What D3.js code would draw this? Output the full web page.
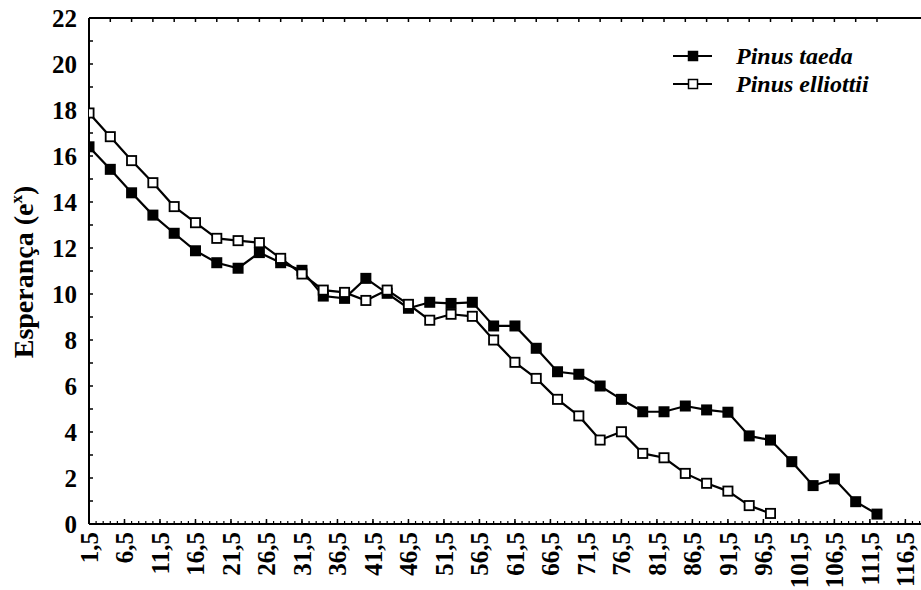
<!DOCTYPE html>
<html><head><meta charset="utf-8">
<script src="https://cdn.jsdelivr.net/npm/d3@7"></script>
<style>body{margin:0;background:#fff}svg{display:block}</style>
</head><body><svg id="c" width="921" height="590" font-family="Liberation Serif, Times New Roman, DejaVu Serif, serif" font-weight="bold"></svg>
<script>
const xTaeda = [1.5,4.5,7.5,10.5,13.5,16.5,19.5,22.5,25.5,28.5,31.5,34.5,37.5,40.5,43.5,46.5,49.5,52.5,55.5,58.5,61.5,64.5,67.5,70.5,73.5,76.5,79.5,82.5,85.5,88.5,91.5,94.5,97.5,100.5,103.5,106.5,109.5,112.5];
const yTaeda = [16.4,15.42,14.4,13.43,12.64,11.88,11.36,11.12,11.8,11.36,11.03,9.91,9.81,10.68,10.03,9.38,9.64,9.59,9.64,8.61,8.61,7.64,6.62,6.51,6.0,5.42,4.88,4.88,5.13,4.96,4.86,3.83,3.65,2.71,1.67,1.96,0.97,0.43];
const xElliottii = [1.5,4.5,7.5,10.5,13.5,16.5,19.5,22.5,25.5,28.5,31.5,34.5,37.5,40.5,43.5,46.5,49.5,52.5,55.5,58.5,61.5,64.5,67.5,70.5,73.5,76.5,79.5,82.5,85.5,88.5,91.5,94.5,97.5];
const yElliottii = [17.87,16.84,15.8,14.84,13.8,13.1,12.42,12.32,12.23,11.55,10.87,10.17,10.07,9.72,10.17,9.55,8.86,9.12,9.03,8.0,7.03,6.33,5.42,4.7,3.65,4.01,3.07,2.88,2.2,1.77,1.43,0.8,0.46];
const xTickLabels = ["1,5","6,5","11,5","16,5","21,5","26,5","31,5","36,5","41,5","46,5","51,5","56,5","61,5","66,5","71,5","76,5","81,5","86,5","91,5","96,5","101,5","106,5","111,5","116,5"];
const yTickLabels = ["0","2","4","6","8","10","12","14","16","18","20","22"];
const seriesNames = ["Pinus taeda","Pinus elliottii"];

const svg = d3.select("#c");
const L=89, R=921, T=18, B=524;
const x = d3.scaleLinear().domain([1.5,118.7]).range([L,R]);
const y = d3.scaleLinear().domain([0,22]).range([B,T]);
const num = s => +s.replace(",",".");

svg.append("line").attr("x1",L).attr("x2",R).attr("y1",T).attr("y2",T).attr("stroke","#000").attr("stroke-width",2);
svg.append("line").attr("x1",L).attr("x2",L).attr("y1",T).attr("y2",B).attr("stroke","#000").attr("stroke-width",2);
svg.append("line").attr("x1",L).attr("x2",R).attr("y1",B).attr("y2",B).attr("stroke","#000").attr("stroke-width",2);

const yAll = d3.range(0,23);
svg.append("g").selectAll("line").data(yAll).join("line")
  .attr("x1",L).attr("x2",L+4).attr("y1",d=>y(d)).attr("y2",d=>y(d)).attr("stroke","#000").attr("stroke-width",1.5);
svg.append("g").selectAll("text").data(yTickLabels).join("text")
  .attr("x",L-12).attr("y",d=>y(+d)).attr("dy","0.35em").attr("text-anchor","end")
  .attr("font-size",25).text(d=>d);

const xMinor = d3.range(1.5,118.6,1);
svg.append("g").selectAll("line").data(xMinor).join("line")
  .attr("x1",d=>x(d)).attr("x2",d=>x(d)).attr("y1",B).attr("y2",B-3).attr("stroke","#000").attr("stroke-width",1.2);
svg.append("g").selectAll("line").data(xTickLabels).join("line")
  .attr("x1",d=>x(num(d))).attr("x2",d=>x(num(d))).attr("y1",B).attr("y2",B-5).attr("stroke","#000").attr("stroke-width",1.5);
svg.append("g").selectAll("text").data(xTickLabels).join("text")
  .attr("transform",d=>`translate(${x(num(d))},${B+8}) rotate(-90)`)
  .attr("dy","0.35em").attr("text-anchor","end").attr("font-size",25).text(d=>d);

svg.append("g").selectAll("line").data(xTaeda).join("line")
  .attr("x1",d=>x(d)).attr("x2",d=>x(d)).attr("y1",T).attr("y2",T+4).attr("stroke","#000").attr("stroke-width",1.5);

svg.append("text").attr("transform",`translate(33,${272}) rotate(-90)`).attr("text-anchor","middle")
  .attr("font-size",28).html('Esperança (e<tspan dy="-11" font-size="17">x</tspan><tspan dy="11">)</tspan>');

svg.append("clipPath").attr("id","clip").append("rect").attr("x",L).attr("y",0).attr("width",R-L).attr("height",B+6);
const plot = svg.append("g").attr("clip-path","url(#clip)");
const line = d3.line().x(d=>x(d[0])).y(d=>y(d[1]));
const dT = xTaeda.map((v,i)=>[v,yTaeda[i]]);
const dE = xElliottii.map((v,i)=>[v,yElliottii[i]]);
plot.append("path").datum(dT).attr("d",line).attr("fill","none").attr("stroke","#000").attr("stroke-width",2.2);
plot.append("path").datum(dE).attr("d",line).attr("fill","none").attr("stroke","#000").attr("stroke-width",2.2);
const s=11;
plot.append("g").selectAll("rect").data(dT).join("rect")
  .attr("x",d=>x(d[0])-s/2).attr("y",d=>y(d[1])-s/2).attr("width",s).attr("height",s).attr("fill","#000");
plot.append("g").selectAll("rect").data(dE).join("rect")
  .attr("x",d=>x(d[0])-s/2+0.9).attr("y",d=>y(d[1])-s/2+0.9).attr("width",s-1.8).attr("height",s-1.8)
  .attr("fill","#fff").attr("stroke","#000").attr("stroke-width",1.8);

const lg = svg.append("g");
const rows=[{n:seriesNames[0],f:"#000",yy:56},{n:seriesNames[1],f:"#fff",yy:84}];
rows.forEach(r=>{
  lg.append("line").attr("x1",673).attr("x2",712).attr("y1",r.yy).attr("y2",r.yy).attr("stroke","#000").attr("stroke-width",2);
  lg.append("rect").attr("x",693-4.5).attr("y",r.yy-4.5).attr("width",9).attr("height",9).attr("fill",r.f).attr("stroke","#000").attr("stroke-width",1.5);
  lg.append("text").attr("x",736).attr("y",r.yy).attr("dy","0.35em").attr("font-size",24).attr("font-style","italic").text(r.n);
});
</script></body></html>
